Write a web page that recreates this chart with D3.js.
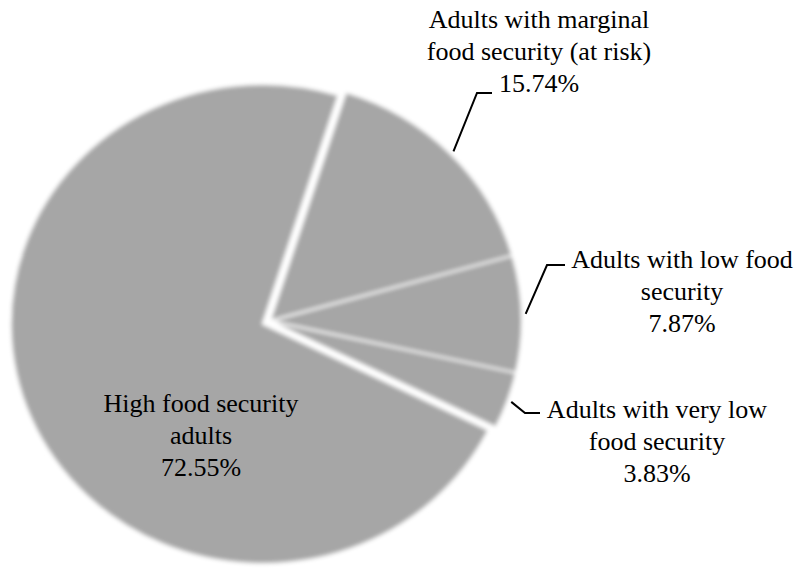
<!DOCTYPE html>
<html><head><meta charset="UTF-8"><script src="https://d3js.org/d3.v7.min.js"></script></head>
<body style="margin:0">
<svg width="801" height="571"></svg>
<script>
// data
const categories = [
  "Adults with marginal food security (at risk)",
  "Adults with low food security",
  "Adults with very low food security",
  "High food security adults"
];
const values = [15.74, 7.87, 3.83, 72.55];
const labelLines = [
  ["Adults with marginal", "food security (at risk)", "15.74%"],
  ["Adults with low food", "security", "7.87%"],
  ["Adults with very low", "food security", "3.83%"],
  ["High food security", "adults", "72.55%"]
];

// layout
const cx = 270, cy = 321, R = 252, squash = 0.952;
const explode = [0, 0, 0, 8];
// label placement: x centre, first baseline, leader elbow + end (null = inside)
const labelPos = [
  { x: 539, y: 28, elbow: [477, 93], end: [492, 93] },
  { x: 682, y: 268, elbow: [547, 265], end: [565, 265] },
  { x: 657, y: 418, elbow: [525, 413], end: [540, 413] },
  { x: 201, y: 412, elbow: null, end: null }
];

const svg = d3.select("svg");

svg.append("defs").append("filter").attr("id", "soft")
  .attr("x", "-10%").attr("y", "-10%").attr("width", "120%").attr("height", "120%")
  .append("feGaussianBlur").attr("stdDeviation", 2);

const pie = d3.pie().sort(null).value(d => d)
  .startAngle(17.5 * Math.PI / 180)
  .endAngle(17.5 * Math.PI / 180 + 2 * Math.PI);
const arcs = pie(values);
const arc = d3.arc().innerRadius(0).outerRadius(R);

const g = svg.append("g").attr("filter", "url(#soft)")
  .append("g")
  .attr("transform", "translate(" + cx + "," + cy + ") scale(1," + squash + ")");

g.selectAll("path")
  .data(arcs)
  .enter()
  .append("path")
  .attr("transform", (d, i) => {
    const mid = (d.startAngle + d.endAngle) / 2;
    return "translate(" + (explode[i] * Math.sin(mid)) + "," + (-explode[i] * Math.cos(mid)) + ")";
  })
  .attr("d", arc)
  .attr("fill", "#a6a6a6")
  .attr("stroke", "#fff")
  .attr("stroke-width", 2)
  .attr("stroke-linejoin", "round");

// leader lines
const edgePoint = (d, k) => {
  const mid = (d.startAngle + d.endAngle) / 2;
  return [cx + R * k * Math.sin(mid), cy - R * k * Math.cos(mid) * squash];
};

arcs.forEach((d, i) => {
  const p = labelPos[i];
  if (p.elbow) {
    const s = edgePoint(d, 1.015);
    svg.append("path")
      .attr("d", d3.line()([s, p.elbow, p.end]))
      .attr("fill", "none")
      .attr("stroke", "#000")
      .attr("stroke-width", 2);
  }
});

// labels, centred by measuring each line
const rows = [];
labelLines.forEach((lines, i) => lines.forEach((line, j) => rows.push({ line: line, x: labelPos[i].x, y: labelPos[i].y + j * 31.8 })));

svg.selectAll("text").data(rows).enter().append("text")
  .attr("x", d => d.x).attr("y", d => d.y)
  .style("font-family", "'Liberation Serif'")
  .style("font-size", "26px")
  .text(d => d.line)
  .attr("x", function (d) { return d.x - this.getComputedTextLength() / 2; });
</script>
</body></html>
